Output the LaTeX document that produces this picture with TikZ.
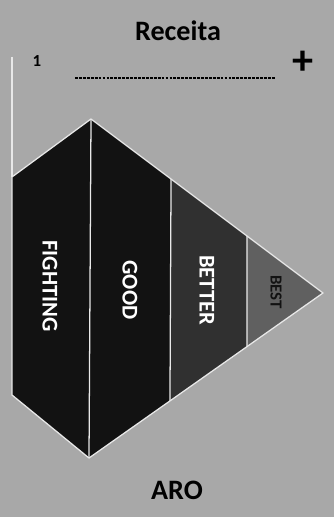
\documentclass[tikz,border=0pt]{standalone}
\usepackage{fontspec}
\setmainfont{Carlito}
\definecolor{rpgray}{RGB}{168,168,168}
\definecolor{rpblack}{RGB}{18,18,18}
\definecolor{rpdark}{RGB}{48,48,48}
\definecolor{rpmid}{RGB}{96,96,96}
\definecolor{rpline}{RGB}{232,232,232}
\usetikzlibrary{calc}
\tikzset{
  collabel/.style={text=white,rotate=-90,font=\fontsize{16}{19}\selectfont\bfseries},
  edge/.style={draw=rpline,line width=0.9pt,line join=round},
  axistext/.style={text=black,font=\fontsize{20}{24}\selectfont\bfseries}
}

\begin{document}
\begin{tikzpicture}[x=0.025cm,y=-0.025cm]
  \fill[rpgray] (0,0) rectangle (334,517);
  \useasboundingbox (0,0) rectangle (334,517);

  % outline points
  \coordinate (tl)  at (12,177);
  \coordinate (top) at (91,119);
  \coordinate (tip) at (323,293);
  \coordinate (bot) at (89,458);
  \coordinate (bl)  at (12,395);
  \coordinate (d2t) at ($(top)!0.345!(tip)$);
  \coordinate (d3t) at ($(top)!0.672!(tip)$);
  \coordinate (d2b) at ($(tip)!0.654!(bot)$);
  \coordinate (d3b) at ($(tip)!0.325!(bot)$);
  \coordinate (axtop) at (12,57);

  % columns
  \fill[rpblack] (tl) -- (top) -- (bot) -- (bl) -- cycle;
  \fill[rpblack] (top) -- (d2t) -- (d2b) -- (bot) -- cycle;
  \fill[rpdark] (d2t) -- (d3t) -- (d3b) -- (d2b) -- cycle;
  \fill[rpmid] (d3t) -- (tip) -- (d3b) -- cycle;
  \draw[edge] (tl) -- (top) -- (tip) -- (bot) -- (bl) -- cycle;
  \draw[edge] (top) -- (bot);
  \draw[edge] (d2t) -- (d2b);
  \draw[edge] (d3t) -- (d3b);
  \draw[draw=rpline,line width=0.8pt] (axtop) -- (tl);

  \node[collabel] (fighting) at (50,286) {FIGHTING};
  \node[collabel] (good) at (130,290) {GOOD};
  \node[collabel] (better) at (207,290) {BETTER};
  \node[collabel,text=rpblack,font=\fontsize{12}{14}\selectfont\bfseries] (best) at (276,292) {BEST};

  % axis texts
  \node[axistext] (receita) at (178,31) {Receita};
  \node[axistext] (aro) at (177,490) {ARO};
  \node[text=black,font=\fontsize{12}{14}\selectfont\bfseries] (one) at (37,61) {1};
  \node[text=black,font=\fontsize{30}{30}\selectfont\bfseries] (plus) at (303,63) {+};
  \coordinate (dashl) at (75,78);
  \coordinate (dashr) at (275,78);
  \draw[black,line width=0.8pt,dash pattern=on 2pt off 0.8pt] (dashl) -- (dashr);
\end{tikzpicture}
\end{document}
